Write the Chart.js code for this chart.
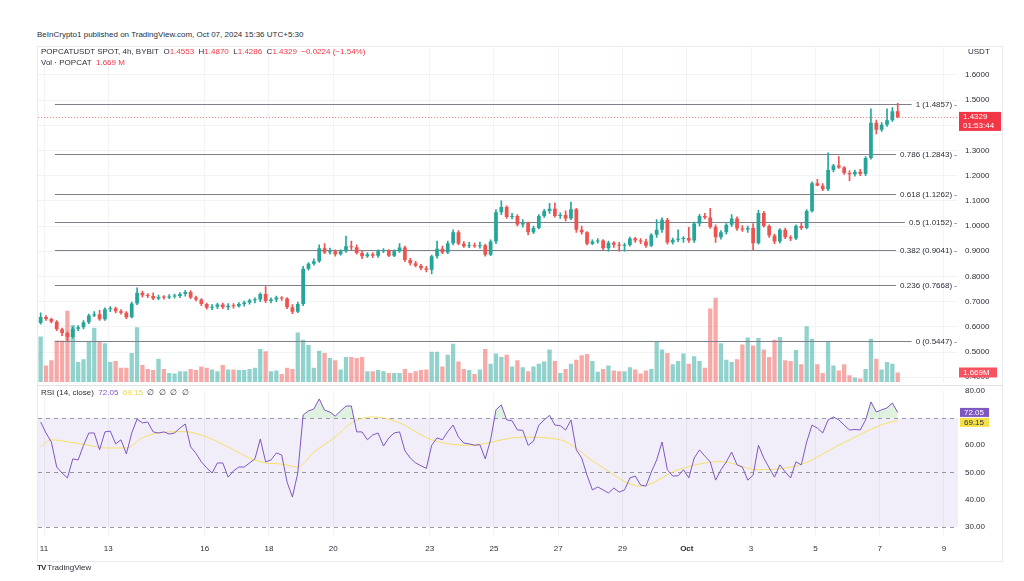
<!DOCTYPE html>
<html>
<head>
<meta charset="utf-8">
<script src="https://cdn.jsdelivr.net/npm/chart.js@4.4.1/dist/chart.umd.min.js"></script>
<style>
  body { margin: 0; background: #fff; width: 1024px; height: 581px; overflow: hidden; position: relative;
         font-family: "Liberation Sans", Arial, sans-serif; }
  .t { position: absolute; white-space: nowrap; font-size: 8px; line-height: 10px; color: #2a2e39; }
  .red { color: #f23645; }
  #frame { position: absolute; left: 37px; top: 46px; width: 966px; height: 516px; border: 1px solid #e9ebf0; box-sizing: border-box; }
  #sep { position: absolute; left: 37px; top: 385px; width: 966px; height: 1px; background: #e0e3eb; }
  #priceWrap { position: absolute; left: 0; top: 41px; width: 1024px; height: 346px; }
  #rsiWrap { position: absolute; left: 0; top: 386px; width: 1024px; height: 195px; }
</style>
</head>
<body>
<div id="frame"></div>
<div id="sep"></div>
<div id="priceWrap"><canvas id="priceChart"></canvas></div>
<div id="rsiWrap"><canvas id="rsiChart"></canvas></div>

<div class="t" style="left:37px;top:30px;">BeInCrypto1 published on TradingView.com, Oct 07, 2024 15:36 UTC+5:30</div>
<div class="t" id="ohlc" style="left:41px;top:47px;"></div>
<div class="t" id="volTxt" style="left:41px;top:58px;"></div>
<div class="t" style="left:968px;top:47px;">USDT</div>
<div class="t" id="rsiTxt" style="left:41px;top:388px;"></div>
<div class="t" style="left:37px;top:563px;"><b style="letter-spacing:-1px;">TV</b> TradingView</div>

<script>
// POPCATUSDT 4h candles, Sep 10 21:30 -> Oct 7 13:30 (UTC+5:30)
const startDay = 10.896;   // day of September of the first candle
const candleStep = 1 / 6;  // 4h

const opens = [
  .615,.639,.631,.620,.590,.575,.560,.592,.598,.618,
  .645,.650,.630,.670,.674,.662,.656,.638,.692,.735,
  .725,.722,.712,.718,.716,.720,.722,.730,.738,.716,
  .708,.690,.676,.680,.688,.678,.684,.682,.690,.696,
  .705,.708,.730,.702,.708,.716,.712,.678,.660,.690,
  .830,.850,.860,.912,.895,.900,.888,.900,.920,.916,
  .893,.880,.888,.882,.900,.903,.882,.900,.915,.865,
  .852,.842,.832,.826,.880,.910,.895,.932,.975,.930,
  .920,.924,.920,.924,.886,.938,1.055,1.075,1.036,1.040,
  1.006,1.012,.975,.992,1.040,1.060,1.068,1.040,1.044,1.030,
  1.066,.985,.975,.930,.938,.942,.912,.934,.926,.922,
  .925,.950,.942,.938,.922,.965,.985,1.025,.935,.945,
  .948,.952,.942,1.010,1.040,1.034,.996,.955,.975,1.005,
  1.030,.990,.986,.992,.932,1.052,1.000,.962,.938,.985,
  .955,.950,1.000,.992,1.060,1.170,1.160,1.146,1.222,1.240,
  1.232,1.210,1.205,1.215,1.206,1.270,1.410,1.382,1.402,1.420,
  1.4553
];
const highs = [
  .655,.645,.635,.625,.595,.580,.600,.605,.625,.650,
  .660,.665,.675,.680,.678,.668,.660,.698,.755,.742,
  .732,.735,.726,.724,.728,.730,.736,.745,.744,.722,
  .712,.694,.688,.694,.694,.692,.692,.696,.702,.710,
  .715,.735,.760,.715,.722,.720,.716,.688,.698,.840,
  .855,.870,.925,.930,.912,.905,.905,.960,.940,.925,
  .900,.895,.895,.905,.910,.906,.905,.930,.920,.872,
  .860,.848,.840,.885,.940,.920,.940,.985,.982,.938,
  .935,.932,.936,.928,.945,1.065,1.100,1.080,1.050,1.045,
  1.025,1.016,1.000,1.045,1.066,1.090,1.092,1.052,1.060,1.095,
  1.070,1.000,.978,.945,.950,.946,.940,.938,.935,.932,
  .956,.955,.950,.948,.970,1.025,1.032,1.030,.952,.985,
  .958,.995,1.016,1.046,1.050,1.070,1.005,.982,1.010,1.045,
  1.036,1.002,1.000,1.010,1.062,1.058,1.005,.968,.990,.992,
  .962,1.005,1.012,1.065,1.175,1.185,1.168,1.290,1.245,1.275,
  1.236,1.220,1.222,1.225,1.275,1.465,1.420,1.410,1.465,1.470,
  1.4870
];
const lows = [
  .610,.625,.615,.585,.565,.545,.555,.585,.592,.612,
  .640,.625,.625,.660,.655,.650,.632,.635,.688,.718,
  .716,.708,.708,.710,.712,.714,.716,.722,.712,.703,
  .684,.670,.668,.672,.672,.668,.674,.678,.682,.690,
  .695,.700,.696,.695,.700,.705,.672,.652,.656,.684,
  .825,.845,.855,.890,.888,.880,.884,.895,.905,.888,
  .870,.875,.874,.875,.894,.878,.878,.895,.858,.845,
  .838,.826,.818,.810,.872,.890,.890,.925,.925,.915,
  .914,.915,.912,.880,.882,.930,1.045,1.030,1.028,1.000,
  .995,.965,.970,.988,1.034,1.050,1.035,1.030,1.020,1.025,
  .975,.968,.925,.926,.932,.905,.900,.915,.900,.900,
  .920,.935,.930,.915,.918,.955,.975,.928,.928,.938,
  .935,.935,.935,1.000,1.028,.990,.935,.948,.968,.998,
  .982,.978,.975,.905,.928,.995,.955,.930,.932,.950,
  .942,.946,.985,.988,1.055,1.160,1.140,1.140,1.215,1.228,
  1.205,1.180,1.198,1.200,1.200,1.265,1.365,1.375,1.395,1.415,
  1.4286
];
const closes = [
  .639,.631,.620,.590,.575,.560,.592,.598,.618,.645,
  .650,.630,.670,.674,.662,.656,.638,.692,.735,.725,
  .722,.712,.718,.716,.720,.722,.730,.738,.716,.708,
  .690,.676,.680,.688,.678,.684,.682,.690,.696,.705,
  .708,.730,.702,.708,.716,.712,.678,.660,.690,.830,
  .850,.860,.912,.895,.900,.888,.900,.920,.916,.893,
  .880,.888,.882,.900,.903,.882,.900,.915,.865,.852,
  .842,.832,.826,.880,.910,.895,.932,.975,.930,.920,
  .924,.920,.924,.886,.938,1.055,1.075,1.036,1.040,1.006,
  1.012,.975,.992,1.040,1.060,1.068,1.040,1.044,1.030,1.066,
  .985,.975,.930,.938,.942,.912,.934,.926,.922,.925,
  .950,.942,.938,.922,.965,.985,1.025,.935,.945,.948,
  .952,.942,1.010,1.040,1.034,.996,.955,.975,1.005,1.030,
  .990,.986,.992,.932,1.052,1.000,.962,.938,.985,.955,
  .950,1.000,.992,1.060,1.170,1.160,1.146,1.222,1.240,1.232,
  1.210,1.205,1.215,1.206,1.270,1.410,1.382,1.402,1.420,1.4553,
  1.4329
];
// volume in millions of POPCAT
const volumes = [
  8.0,2.9,3.8,7.3,7.3,12.5,10.0,3.5,4.0,7.0,
  9.5,7.0,6.8,3.5,3.7,2.5,2.5,5.1,9.6,3.0,
  2.3,2.1,4.1,2.3,1.6,1.5,1.9,1.9,2.3,2.1,
  2.7,2.5,2.2,1.9,3.0,2.2,2.2,2.1,2.1,2.3,
  2.5,5.8,5.4,1.9,2.0,1.4,2.5,2.3,8.7,7.4,
  6.5,2.5,5.5,5.1,4.2,3.8,2.2,4.4,4.4,4.2,
  4.4,1.9,1.9,2.1,1.9,1.6,1.6,1.6,2.3,1.6,
  1.9,2.1,2.2,5.3,5.3,2.7,4.8,6.7,3.6,2.3,
  2.1,1.4,2.2,5.8,3.2,5.0,4.4,4.8,2.7,3.8,
  2.6,1.9,2.7,3.2,3.6,5.7,3.7,1.6,2.3,3.2,
  3.9,4.7,4.9,3.7,1.8,2.3,2.9,2.0,1.9,1.9,
  2.6,2.2,1.5,2.0,2.3,7.0,5.7,5.1,3.1,3.7,
  5.0,3.2,4.5,3.7,2.5,12.9,14.8,6.8,3.9,3.5,
  4.0,6.6,7.8,6.4,7.7,5.7,4.4,7.4,7.9,3.8,
  3.7,5.6,3.1,9.8,7.6,3.1,1.6,7.0,2.9,2.0,
  3.1,1.2,0.8,0.6,2.3,7.6,4.1,2.2,3.5,3.2,
  1.669
];
const rsi = [
  68.5,64.5,61.2,52,49.8,48,55,54.6,60,64.5,
  64.5,58.3,64.9,65.2,60.5,62,56.8,64.5,69.6,68.2,
  68.5,64.9,64.5,64.9,64.1,64.5,66.3,67.8,59.4,57,
  53.9,51.7,49.8,53.5,53.5,48.3,50.6,52,52,53.5,
  55,62.3,53.9,54.6,57.2,56.4,46.5,41,49.8,71.1,
  72.6,73.3,77,72.9,72.2,70.7,72.6,74.4,74.4,64.9,
  64.9,62,63.8,64.5,59.7,62.7,64.5,64.9,58,55.3,
  53.5,52.5,51.5,60,62.7,62,65,67.4,63,60.8,
  60.5,60,60.2,55,62,73,74.8,69.3,69,65.6,
  65.5,60,61.5,67.4,69.3,71,67.4,67.2,65.6,69.3,
  58.3,55.3,49,43.6,44.7,43.6,42.5,44.3,42.8,43.6,
  48,48.7,45.4,45,50.2,54.6,61.2,51,48.7,48.8,
  51,48,55.3,58.3,56,53.9,47.2,51,53.9,57.5,
  52.8,52,47.2,49,60,55.3,51.7,48.3,52.8,50.2,
  48,53.9,52.8,61.2,67.4,66.3,64.5,69.3,70.4,69.3,
  67.4,65.6,65.8,65.6,69.3,75.9,72.2,73,73.7,75.5,
  72.05
];
// RSI-based moving average, read at a few candles
const rsiMaIdx  = [0, 2, 5, 9, 12, 16, 19, 22, 27, 31, 35, 39, 42, 45, 48, 51, 55, 58, 62, 64, 67, 73, 80, 90, 97, 104, 112, 119, 127, 134, 142, 149, 157, 160];
const rsiMaVals = [59.5, 62, 61.3, 60, 59, 59, 62.7, 64.5, 65, 63, 59.4, 55.3, 53.5, 53.1, 52, 57.5, 63, 68.2, 70.4, 70, 68.2, 62, 60, 63, 62, 53, 45, 51, 54, 51, 53, 60, 67.5, 69.15];

const fibLevels = [1, 0.786, 0.618, 0.5, 0.382, 0.236, 0];
const fibPrices = [1.4857, 1.2843, 1.1262, 1.0152, 0.9041, 0.7668, 0.5447];
const fibStartDay = 11.34;

const priceTicks = [0.4, 0.5, 0.6, 0.7, 0.8, 0.9, 1.0, 1.1, 1.2, 1.3, 1.4, 1.5, 1.6];
const rsiTicks = [30, 40, 50, 60, 80];
const tickDays = [11, 13, 16, 18, 20, 23, 25, 27, 29, 31, 33, 35, 37, 39];
const tickLabels = ["11", "13", "16", "18", "20", "23", "25", "27", "29", "Oct", "3", "5", "7", "9"];

const UP = "#26a69a", DOWN = "#ef5350";
const times = opens.map((_, i) => startDay + i * candleStep);
const isUp = opens.map((o, i) => closes[i] >= o);
const last = closes.length - 1;

const xMin = 10.8133, xMax = 39.438;
const font = "Liberation Sans, Arial, sans-serif";

// header texts
const chg = closes[last] - closes[last - 1];
const pct = chg / closes[last - 1] * 100;
const fmtSigned = v => (v < 0 ? "\u2212" : "+") + Math.abs(v).toFixed(4);
document.getElementById("ohlc").innerHTML =
  "POPCATUSDT SPOT, 4h, BYBIT&nbsp;&nbsp;O<span class='red'>" + opens[last].toFixed(4) +
  "</span>&nbsp;&nbsp;H<span class='red'>" + highs[last].toFixed(4) +
  "</span>&nbsp;&nbsp;L<span class='red'>" + lows[last].toFixed(4) +
  "</span>&nbsp;&nbsp;C<span class='red'>" + closes[last].toFixed(4) +
  "</span>&nbsp;&nbsp;<span class='red'>" + fmtSigned(chg) + " (" + (pct < 0 ? "\u2212" : "+") + Math.abs(pct).toFixed(2) + "%)</span>";
document.getElementById("volTxt").innerHTML =
  "Vol \u00b7 POPCAT&nbsp;&nbsp;<span class='red'>" + volumes[last].toFixed(3) + " M</span>";
document.getElementById("rsiTxt").innerHTML =
  "RSI (14, close)&nbsp;&nbsp;<span style='color:#7e57c2'>" + rsi[last].toFixed(2) +
  "</span>&nbsp;&nbsp;<span style='color:#f0d64a'>" + rsiMaVals[rsiMaVals.length - 1].toFixed(2) +
  "</span>&nbsp;&nbsp;\u2205&nbsp;&nbsp;\u2205&nbsp;&nbsp;\u2205&nbsp;&nbsp;\u2205";

function labelBox(ctx, x, yc, w, h, bg, fg, lines) {
  ctx.fillStyle = bg;
  ctx.fillRect(x, yc - h / 2, w, h);
  ctx.fillStyle = fg;
  ctx.font = "8px " + font;
  ctx.textAlign = "left";
  ctx.textBaseline = "middle";
  const lh = h / lines.length;
  lines.forEach((s, k) => ctx.fillText(s, x + 4, yc - h / 2 + lh * (k + 0.5)));
}

// set an axis range so that two values land on the wanted canvas rows
function pinAxis(chart, id, vTop, pyTop, vBot, pyBot) {
  const a = chart.chartArea;
  const k = (vTop - vBot) / (pyBot - pyTop);
  chart.options.scales[id].max = vTop + (pyTop - a.top) * k;
  chart.options.scales[id].min = vBot - (a.bottom - pyBot) * k;
}

const fibPlugin = {
  id: "fib",
  afterDatasetDraw(chart, args) {
    if (args.index !== 2) return; // right after the volume bars
    const { ctx, chartArea, scales } = chart;
    const x0 = scales.x.getPixelForValue(fibStartDay);
    ctx.save();
    ctx.font = "8px " + font;
    ctx.textAlign = "right";
    ctx.textBaseline = "middle";
    fibLevels.forEach((lvl, k) => {
      const y = Math.round(scales.y.getPixelForValue(fibPrices[k])) + 0.5;
      const txt = lvl + " (" + fibPrices[k].toFixed(4) + ") -";
      const tx = chartArea.right - 1;
      const w = ctx.measureText(txt).width;
      ctx.strokeStyle = "#7d808a";
      ctx.lineWidth = 1.2;
      ctx.beginPath();
      ctx.moveTo(x0, y);
      ctx.lineTo(tx - w - 4, y);
      ctx.stroke();
      ctx.fillStyle = "#2a2e39";
      ctx.fillText(txt, tx, y);
    });
    ctx.restore();
  },
  afterDatasetsDraw(chart) {
    const { ctx, chartArea, scales } = chart;
    const y = Math.round(scales.y.getPixelForValue(closes[last])) + 0.5;
    ctx.save();
    ctx.strokeStyle = "rgba(239,83,80,0.7)";
    ctx.setLineDash([1, 2]);
    ctx.lineWidth = 1;
    ctx.beginPath();
    ctx.moveTo(chartArea.left, y);
    ctx.lineTo(chartArea.right, y);
    ctx.stroke();
    ctx.restore();
  },
  afterDraw(chart) {
    const { ctx, chartArea, scales } = chart;
    ctx.save();
    const yp = scales.y.getPixelForValue(closes[last]);
    labelBox(ctx, chartArea.right + 1, yp + 4.5, 42, 19, "#f23645", "#fff", [closes[last].toFixed(4), "01:53:44"]);
    const yv = scales.yVol.getPixelForValue(volumes[last]);
    labelBox(ctx, chartArea.right + 1, yv, 38, 10, "#f7525f", "#fff", [volumes[last].toFixed(3) + "M"]);
    ctx.restore();
  }
};

const priceChart = new Chart(document.getElementById("priceChart"), {
  type: "bar",
  data: {
    datasets: [
      {
        label: "body",
        data: times.map((t, i) => ({ x: t, y: [opens[i], closes[i]] })),
        backgroundColor: isUp.map(u => (u ? UP : DOWN)),
        grouped: false,
        barPercentage: 0.7,
        categoryPercentage: 1,
        minBarLength: 1,
        order: 0
      },
      {
        label: "wick",
        data: times.map((t, i) => ({ x: t, y: [lows[i], highs[i]] })),
        backgroundColor: isUp.map(u => (u ? UP : DOWN)),
        grouped: false,
        barThickness: 1,
        order: 1
      },
      {
        label: "volume",
        data: times.map((t, i) => ({ x: t, y: volumes[i] })),
        backgroundColor: isUp.map(u => (u ? "rgba(38,166,154,0.5)" : "rgba(239,83,80,0.5)")),
        yAxisID: "yVol",
        grouped: false,
        barPercentage: 0.8,
        categoryPercentage: 1,
        order: 2
      }
    ]
  },
  options: {
    responsive: true,
    maintainAspectRatio: false,
    animation: false,
    layout: { padding: { left: 38, right: 0, top: 0, bottom: 0 } },
    plugins: { legend: { display: false }, tooltip: { enabled: false } },
    scales: {
      x: {
        type: "linear",
        min: xMin,
        max: xMax,
        offset: false,
        afterBuildTicks: s => { s.ticks = tickDays.map(v => ({ value: v })); },
        ticks: { display: false },
        grid: { color: "#f2f3f6", drawTicks: false, offset: false },
        border: { display: false },
        afterFit: s => { s.height = 0; }
      },
      y: {
        position: "right",
        min: 0.38,
        max: 1.71,
        afterBuildTicks: s => { s.ticks = priceTicks.map(v => ({ value: v })); },
        afterFit: s => { s.width = 66; },
        ticks: { callback: v => v.toFixed(4), color: "#2a2e39", font: { size: 8, family: font }, padding: 0 },
        grid: { color: "#f2f3f6", drawTicks: true, tickLength: 7, tickColor: "rgba(0,0,0,0)" },
        border: { display: false }
      },
      yVol: { display: false, min: 0, max: 59 }
    }
  },
  plugins: [fibPlugin]
});
// price: 1.5 on page row 100, 0.5 on page row 352; volume base on row 382, 10M = 57px
pinAxis(priceChart, "y", 1.5, 100 - 41, 0.5, 352 - 41);
pinAxis(priceChart, "yVol", 10, 382 - 57 - 41, 0, 382 - 41);
priceChart.update("none");

const rsiPlugin = {
  id: "rsiBand",
  beforeDatasetsDraw(chart) {
    const { ctx, chartArea, scales } = chart;
    const y70 = scales.y.getPixelForValue(70), y30 = scales.y.getPixelForValue(30), y50 = scales.y.getPixelForValue(50);
    ctx.save();
    ctx.fillStyle = "rgba(126,87,194,0.1)";
    ctx.fillRect(chartArea.left, y70, chartArea.right - chartArea.left, y30 - y70);
    ctx.strokeStyle = "#9598a1";
    ctx.lineWidth = 1;
    ctx.setLineDash([4, 4]);
    [y70, y50, y30].forEach(y => {
      ctx.beginPath();
      ctx.moveTo(chartArea.left, Math.round(y) + 0.5);
      ctx.lineTo(chartArea.right, Math.round(y) + 0.5);
      ctx.stroke();
    });
    ctx.restore();
  },
  afterDraw(chart) {
    const { ctx, chartArea, scales } = chart;
    ctx.save();
    const y1 = scales.y.getPixelForValue(rsi[last]);
    labelBox(ctx, chartArea.right + 2, y1, 29, 9, "#7e57c2", "#fff", [rsi[last].toFixed(2)]);
    const y2 = Math.max(scales.y.getPixelForValue(rsiMaVals[rsiMaVals.length - 1]), y1 + 10);
    labelBox(ctx, chartArea.right + 2, y2, 29, 9, "#f5e04a", "#2a2e39", [rsiMaVals[rsiMaVals.length - 1].toFixed(2)]);
    ctx.restore();
  }
};

const rsiChart = new Chart(document.getElementById("rsiChart"), {
  type: "line",
  data: {
    datasets: [
      {
        label: "RSI",
        data: times.map((t, i) => ({ x: t, y: rsi[i] })),
        borderColor: "#7e57c2",
        borderWidth: 1,
        pointRadius: 0,
        tension: 0,
        fill: { target: { value: 70 }, above: "rgba(76,175,80,0.18)", below: "rgba(0,0,0,0)" }
      },
      {
        label: "RSI MA",
        data: rsiMaIdx.map((k, j) => ({ x: times[k], y: rsiMaVals[j] })),
        borderColor: "rgba(245,220,80,0.85)",
        borderWidth: 1,
        pointRadius: 0,
        cubicInterpolationMode: "monotone",
        fill: false
      }
    ]
  },
  options: {
    responsive: true,
    maintainAspectRatio: false,
    animation: false,
    layout: { padding: { left: 38, right: 0, top: 0, bottom: 0 } },
    plugins: { legend: { display: false }, tooltip: { enabled: false } },
    scales: {
      x: {
        type: "linear",
        min: xMin,
        max: xMax,
        afterBuildTicks: s => { s.ticks = tickDays.map(v => ({ value: v })); },
        ticks: {
          autoSkip: false,
          maxRotation: 0,
          padding: 8,
          color: "#2a2e39",
          callback: v => tickLabels[tickDays.indexOf(v)],
          font: c => ({ size: 8, family: font, weight: c.tick && c.tick.value === 31 ? "bold" : "normal" })
        },
        grid: { color: "#f2f3f6", drawTicks: false },
        border: { display: false },
        afterFit: s => { s.height = 45; }
      },
      y: {
        position: "right",
        min: 26.7,
        max: 81.7,
        afterBuildTicks: s => { s.ticks = rsiTicks.map(v => ({ value: v })); },
        afterFit: s => { s.width = 66; },
        ticks: { callback: v => v.toFixed(2), color: "#2a2e39", font: { size: 8, family: font }, padding: 0 },
        grid: { display: false, drawTicks: true, tickLength: 7 },
        border: { display: false }
      }
    }
  },
  plugins: [rsiPlugin]
});
// RSI: 70 on page row 418, 30 on page row 527
pinAxis(rsiChart, "y", 70, 418 - 386, 30, 527 - 386);
rsiChart.update("none");
</script>
</body>
</html>
